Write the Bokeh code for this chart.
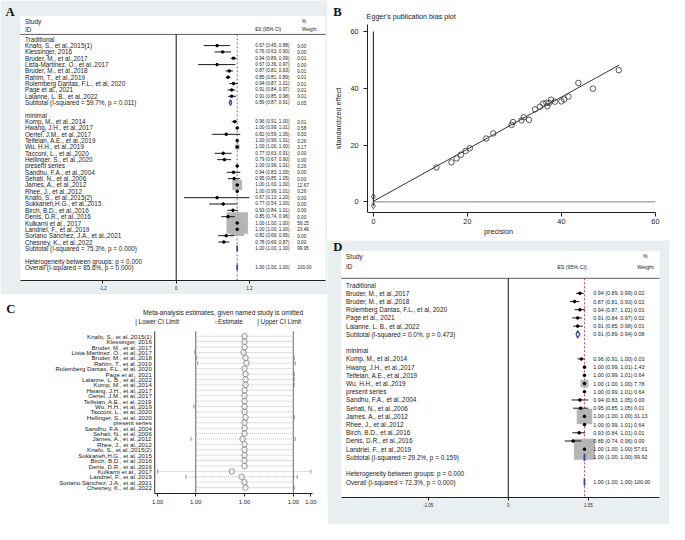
import math
from bokeh.plotting import figure
from bokeh.models import Range1d, FixedTicker, NumeralTickFormatter, CustomJSTickFormatter
from bokeh.layouts import row, column
from bokeh.embed import file_html
from bokeh.resources import INLINE
from bokeh.core.properties import value

SX = 669 / 685
SY = 524 / 540
SF = (SX + SY) / 2
BG = "#e9eff1"
SANS = "Liberation Sans"
SERIF = "Liberation Serif"
TXT = "#222222"


def fs(px):
    return f"{px * SF:.2f}px"


# ===================== DATA =====================
# ---- Panel A: forest plot, all studies ----
a_group_labels = ["Traditional", "minimal"]
a_trad_names = ["Knafo, S., et al.,2015(1)", "Klessinger, 2016", "Bruder, M., et al.,2017",
                "Lista-Martinez, O., et al.,2017", "Bruder, M., et al.,2018", "Rahim, T., et al.,2019",
                "Rolemberg Dantas, F.L., et al, 2020", "Page et al., 2021", "Lalanne, L. B., et al.,2022"]
a_trad_es = [0.67, 0.76, 0.94, 0.67, 0.87, 0.85, 0.94, 0.91, 0.91]
a_trad_lo = [0.45, 0.63, 0.89, 0.36, 0.81, 0.81, 0.87, 0.84, 0.85]
a_trad_hi = [0.88, 0.90, 0.99, 0.97, 0.93, 0.89, 1.01, 0.97, 0.98]
a_trad_w = [0.00, 0.00, 0.01, 0.00, 0.01, 0.01, 0.01, 0.01, 0.01]
a_min_names = ["Komp, M., et al.,2014", "Hwang, J.H., et al.,2017", "Oertel, J.M., et al.,2017",
               "Telfeian, A.E., et al.,2019", "Wu, H.H., et al.,2019", "Tacconi, L., et al.,2020",
               "Hellinger, S., et al.,2020", "present series", "Sandhu, F.A., et al.,2004",
               "Sehati, N., et al.,2006", "James, A., et al.,2012", "Rhee, J., et al.,2012",
               "Knafo, S., et al.,2015(2)", "Sukkarieh,H.G., et al.,2015", "Birch, B.D., et al.,2016",
               "Denis, D.R., et al.,2016", "Kulkarni et al., 2017", "Landriel, F., et al.,2019",
               "Soriano Sánchez, J.A., et al.,2021", "Chesney, K., et al.,2022"]
a_min_es = [0.96, 1.00, 0.82, 1.00, 1.00, 0.77, 0.79, 1.00, 0.94, 0.95,
            1.00, 1.00, 0.67, 0.77, 0.93, 0.85, 1.00, 1.00, 0.82, 0.78]
a_min_lo = [0.91, 0.99, 0.59, 0.99, 1.00, 0.63, 0.67, 0.99, 0.83, 0.85,
            1.00, 0.99, 0.13, 0.54, 0.84, 0.74, 1.00, 1.00, 0.69, 0.69]
a_min_hi = [1.00, 1.01, 1.05, 1.01, 1.00, 0.91, 0.90, 1.01, 1.05, 1.05,
            1.00, 1.01, 1.20, 1.00, 1.01, 0.96, 1.00, 1.00, 0.95, 0.87]
a_min_w = [0.01, 0.58, 0.00, 0.26, 3.17, 0.00, 0.00, 0.26, 0.00, 0.00,
           12.67, 0.26, 0.00, 0.00, 0.00, 0.00, 59.25, 23.46, 0.00, 0.00]
a_sub_labels = ["Subtotal  (I-squared = 59.7%, p = 0.011)", "Subtotal  (I-squared = 75.3%, p = 0.000)"]
a_sub_es = [0.89, 1.00]
a_sub_lo = [0.87, 1.00]
a_sub_hi = [0.91, 1.00]
a_sub_w = [0.05, 99.95]
a_het_label = "Heterogeneity between groups: p = 0.000"
a_overall_label = "Overall  (I-squared = 85.6%, p = 0.000)"
a_overall = [1.00, 1.00, 1.00, 100.00]
a_xticks = [-1.2, 0, 1.2]

# ---- Panel B: Egger's plot ----
b_precision = [13.4, 16.6, 17.7, 18.6, 19.6, 20.5, 24.0, 25.5, 29.4, 29.7, 31.5, 32.0, 33.1, 34.4,
               35.4, 36.1, 36.8, 37.0, 37.4, 37.8, 38.6, 40.0, 40.6, 41.5, 43.6, 46.7, 52.2]
b_std_effect = [12.1, 13.9, 15.3, 16.6, 17.9, 18.9, 22.3, 24.1, 27.1, 28.1, 28.7, 29.8, 28.9, 32.6,
                33.5, 34.6, 34.9, 33.7, 34.9, 36.0, 35.3, 35.4, 36.1, 37.1, 41.9, 39.9, 46.4]
b_intercept = 0.2
b_slope = 0.918
b_fit_x = [0.0, 52.3]
b_intercept_ci = [-1.4, 1.8]
b_xticks = [0, 20, 40, 60]
b_yticks = [0, 20, 40, 60]
b_title = "Egger's publication bias plot"

# ---- Panel C: leave-one-out sensitivity ----
c_names = ["Knafo, S., et al.,2015(1)", "Klessinger, 2016", "Bruder, M., et al.,2017",
           "Lista-Martinez, O., et al.,2017", "Bruder, M., et al.,2018", "Rahim, T., et al.,2019",
           "Rolemberg Dantas, F.L., et al, 2020", "Page et al., 2021", "Lalanne, L. B., et al.,2022",
           "Komp, M., et al.,2014", "Hwang, J.H., et al.,2017", "Oertel, J.M., et al.,2017",
           "Telfeian, A.E., et al.,2019", "Wu, H.H., et al.,2019", "Tacconi, L., et al.,2020",
           "Hellinger, S., et al.,2020", "present series", "Sandhu, F.A., et al.,2004",
           "Sehati, N., et al.,2006", "James, A., et al.,2012", "Rhee, J., et al.,2012",
           "Knafo, S., et al.,2015(2)", "Sukkarieh,H.G., et al.,2015", "Birch, B.D., et al.,2016",
           "Denis, D.R., et al.,2016", "Kulkarni et al., 2017", "Landriel, F., et al.,2019",
           "Soriano Sánchez, J.A., et al.,2021", "Chesney, K., et al.,2022"]
c_est = [1.0000, 1.0000, 1.0000, 0.99995, 1.00005, 1.0001, 1.0000, 1.00005, 1.00005, 1.00005,
         1.0000, 1.0000, 1.0000, 1.0000, 1.0000, 1.00005, 1.0000, 1.0000, 1.0000, 0.9999,
         1.0000, 1.0000, 1.0000, 1.0000, 1.0000, 0.99935, 0.99985, 1.0000, 1.00005]
c_lo = [0.9975, 0.9975, 0.9975, 0.99745, 0.99755, 0.9976, 0.9975, 0.9975, 0.9975, 0.9975,
        0.9975, 0.9975, 0.9975, 0.9974, 0.9975, 0.9975, 0.9975, 0.9975, 0.9975, 0.99725,
        0.9975, 0.9975, 0.9975, 0.9975, 0.9975, 0.99555, 0.9970, 0.9975, 0.9975]
c_hi = [1.0025, 1.0025, 1.0025, 1.0025, 1.00255, 1.0026, 1.0025, 1.00255, 1.00255, 1.00255,
        1.0025, 1.0025, 1.0025, 1.0025, 1.0025, 1.00255, 1.0025, 1.0025, 1.0025, 1.0026,
        1.0025, 1.0025, 1.0025, 1.0025, 1.0025, 1.0034, 1.0027, 1.0025, 1.00255]
c_overall = [0.9975, 1.0000, 1.0025]
c_title = "Meta-analysis estimates, given named study is omitted"
c_legend = ["| Lower CI Limit", "○Estimate", "| Upper CI Limit"]

# ---- Panel D: forest plot, subset ----
d_group_labels = ["Traditional", "minimal"]
d_trad_names = ["Bruder, M., et al.,2017", "Bruder, M., et al.,2018", "Rolemberg Dantas, F.L., et al, 2020",
                "Page et al., 2021", "Lalanne, L. B., et al.,2022"]
d_trad_es = [0.94, 0.87, 0.94, 0.91, 0.91]
d_trad_lo = [0.89, 0.81, 0.87, 0.84, 0.85]
d_trad_hi = [0.99, 0.93, 1.01, 0.97, 0.98]
d_trad_w = [0.02, 0.02, 0.01, 0.02, 0.01]
d_min_names = ["Komp, M., et al.,2014", "Hwang, J.H., et al.,2017", "Telfeian, A.E., et al.,2019",
               "Wu, H.H., et al.,2019", "present series", "Sandhu, F.A., et al.,2004",
               "Sehati, N., et al.,2006", "James, A., et al.,2012", "Rhee, J., et al.,2012",
               "Birch, B.D., et al.,2016", "Denis, D.R., et al.,2016", "Landriel, F., et al.,2019"]
d_min_es = [0.96, 1.00, 1.00, 1.00, 1.00, 0.94, 0.95, 1.00, 1.00, 0.93, 0.85, 1.00]
d_min_lo = [0.91, 0.99, 0.99, 1.00, 0.99, 0.83, 0.85, 1.00, 0.99, 0.84, 0.74, 1.00]
d_min_hi = [1.00, 1.01, 1.01, 1.00, 1.01, 1.05, 1.05, 1.00, 1.01, 1.01, 0.96, 1.00]
d_min_w = [0.03, 1.43, 0.64, 7.78, 0.64, 0.00, 0.01, 31.13, 0.64, 0.01, 0.00, 57.61]
d_sub_labels = ["Subtotal  (I-squared = 0.0%, p = 0.473)", "Subtotal  (I-squared = 29.2%, p = 0.159)"]
d_sub_es = [0.91, 1.00]
d_sub_lo = [0.89, 1.00]
d_sub_hi = [0.94, 1.00]
d_sub_w = [0.08, 99.92]
d_het_label = "Heterogeneity between groups: p = 0.000"
d_overall_label = "Overall  (I-squared = 72.3%, p = 0.000)"
d_overall = [1.00, 1.00, 1.00, 100.00]
d_xticks = [-1.05, 0, 1.05]


# ===================== HELPERS =====================
def gtext(p, x, y, text, size, font=SANS, bold=False, align="left", color=TXT):
    p.text(x=[x], y=[y], text=[text], text_font=value(font), text_font_size=fs(size),
           text_font_style="bold" if bold else "normal", text_align=align,
           text_baseline="middle", text_color=color)


def mkfig(W, H, frame_bottom, xr, yr, bg, yaxis=False):
    p = figure(width=round(W * SX), height=round(H * SY),
               x_range=Range1d(xr(0), xr(W)), y_range=Range1d(yr(frame_bottom), yr(0)),
               output_backend="svg", toolbar_location=None,
               y_axis_location="left" if yaxis else None,
               min_border_left=0, min_border_right=0, min_border_top=0,
               min_border_bottom=round(H * SY) - round(frame_bottom * SY))
    p.background_fill_color = bg
    p.border_fill_color = bg
    p.outline_line_color = None
    p.xgrid.visible = False
    p.ygrid.visible = False
    return p


def style_axis(ax, size, tick_out=3, standoff=2):
    ax.axis_line_color = "#222222"
    ax.major_tick_line_color = "#222222"
    ax.major_tick_out = tick_out
    ax.major_tick_in = 0
    ax.minor_tick_line_color = None
    ax.major_label_text_font_size = fs(size)
    ax.major_label_text_font = SANS
    ax.major_label_text_color = TXT
    ax.major_label_standoff = standoff


def build_records(group_labels, groups, subs, het_label, overall_label, overall):
    recs = []
    r = 1
    for glab, (names, es, lo, hi, w), sub in zip(group_labels, groups, subs):
        recs.append(dict(row=r, kind="group", label=glab))
        r += 1
        for i in range(len(names)):
            recs.append(dict(row=r, kind="study", label=names[i], es=es[i], lo=lo[i], hi=hi[i], w=w[i]))
            r += 1
        sl, se, slo, shi, sw = sub
        recs.append(dict(row=r, kind="sub", label=sl, es=se, lo=slo, hi=shi, w=sw))
        r += 2
    recs.append(dict(row=r, kind="het", label=het_label))
    r += 1
    recs.append(dict(row=r, kind="overall", label=overall_label, es=overall[0], lo=overall[1],
                     hi=overall[2], w=overall[3]))
    return recs


def forest(recs, g, xticks, letter):
    W, H = g["W"], g["H"]
    L, R, T, B = g["frame"]
    x0, ppu, y1, rh = g["x0"], g["ppu"], g["row1"], g["rowh"]

    def xr(px):
        return (px - x0) / ppu

    def yr(py):
        return 1 + (py - y1) / rh

    p = mkfig(W, H, B, xr, yr, BG)
    xs, xe, ytop, ybot = xr(L), xr(R), yr(T), yr(B)
    p.quad(left=[xs], right=[xe], top=[ytop], bottom=[ybot], fill_color="white", line_color=None)

    hl = yr(g["hline"])
    p.segment(x0=[xs], x1=[xe], y0=[hl], y1=[hl], line_color="#333333", line_width=0.8)
    ov = [r for r in recs if r["kind"] == "overall"][0]
    p.segment(x0=[0], x1=[0], y0=[hl], y1=[ybot], line_color="#111111", line_width=1)
    p.segment(x0=[ov["es"]], x1=[ov["es"]], y0=[hl], y1=[ybot], line_color="#d2465a",
              line_width=1, line_dash="2 2")

    st = [r for r in recs if r["kind"] == "study"]
    bx_ = [r for r in st if r["w"] > 0]
    p.scatter(x=[r["es"] for r in bx_], y=[r["row"] for r in bx_],
              size=[g["box"] * math.sqrt(r["w"]) * SF for r in bx_], marker="square",
              fill_color="#b5b5b5", line_color=None)
    p.segment(x0=[r["lo"] for r in st], x1=[r["hi"] for r in st], y0=[r["row"] for r in st],
              y1=[r["row"] for r in st], line_color="#1a1a1a", line_width=1)
    p.scatter(x=[r["es"] for r in st], y=[r["row"] for r in st], size=2.6, marker="circle",
              fill_color="black", line_color="black")

    dm = [r for r in recs if r["kind"] in ("sub", "overall")]
    h = 0.45
    p.patches(xs=[[r["lo"], r["es"], r["hi"], r["es"]] for r in dm],
              ys=[[r["row"], r["row"] - h, r["row"], r["row"] + h] for r in dm],
              fill_color=None, line_color="#3a479c",
              line_width=[1.3 if r["hi"] > r["lo"] else 1.8 for r in dm])

    nx = xr(g["name_x"])
    tx = [nx, nx] + [nx] * len(recs)
    ty = [yr(g["study_y"]), yr(g["id_y"])] + [r["row"] for r in recs]
    tt = ["Study", "ID"] + [r["label"] for r in recs]
    p.text(x=tx, y=ty, text=tt, text_font=value(SANS), text_font_size=fs(g["name_fs"]),
           text_baseline="middle", text_align="left", text_color=TXT)

    er = [r for r in recs if r["kind"] in ("study", "sub", "overall")]
    if g["joined"]:
        et = [f"{r['es']:.2f} ({r['lo']:.2f}, {r['hi']:.2f}) {r['w']:.2f}" for r in er]
        p.text(x=[xr(g["es_x"])] * len(er), y=[r["row"] for r in er], text=et,
               text_font=value(SANS), text_font_size=fs(g["es_fs"]), text_baseline="middle",
               text_align="left", text_color=TXT)
    else:
        et = [f"{r['es']:.2f} ({r['lo']:.2f}, {r['hi']:.2f})" for r in er]
        wt = [f"{r['w']:.2f}" for r in er]
        p.text(x=[xr(g["es_x"])] * len(er) + [xr(g["w_x"])] * len(er),
               y=[r["row"] for r in er] * 2, text=et + wt,
               text_font=value(SANS), text_font_size=fs(g["es_fs"]), text_baseline="middle",
               text_align="left", text_color=TXT)
    hx = [xr(g["esh_x"]), xr(g["pct_x"]), xr(g["wh_x"])]
    hy = [yr(g["id_y"]), yr(g["study_y"]), yr(g["id_y"])]
    p.text(x=hx, y=hy, text=["ES (95% CI)", "%", "Weight"], text_font=value(SANS),
           text_font_size=fs(g["es_fs"]), text_baseline="middle", text_align="left", text_color=TXT)

    ax = p.xaxis[0]
    ax.ticker = FixedTicker(ticks=xticks)
    ax.formatter = CustomJSTickFormatter(code="return tick.toString();")
    ax.bounds = (xs, xe)
    style_axis(ax, 4.6, tick_out=3, standoff=2)

    gtext(p, xr(g["letter"][0]), yr(g["letter"][1]), letter, 13, font=SERIF, bold=True, color="#111111")
    return p


# ===================== PANEL A =====================
gA = dict(W=335, H=303, frame=(20, 333, 16, 289), x0=180, ppu=62.5, row1=40, rowh=6.54, hline=35,
          study_y=22, id_y=30, name_x=25, es_x=261, w_x=304, esh_x=261, pct_x=309, wh_x=309,
          name_fs=6.55, es_fs=4.8, box=2.86, joined=False, letter=(5, 12))
recsA = build_records(a_group_labels,
                      [(a_trad_names, a_trad_es, a_trad_lo, a_trad_hi, a_trad_w),
                       (a_min_names, a_min_es, a_min_lo, a_min_hi, a_min_w)],
                      [(a_sub_labels[i], a_sub_es[i], a_sub_lo[i], a_sub_hi[i], a_sub_w[i]) for i in range(2)],
                      a_het_label, a_overall_label, a_overall)
pa = forest(recsA, gA, a_xticks, "A")

# ===================== PANEL D =====================
gD = dict(W=350, H=293, frame=(14, 340, 11, 265), x0=185, ppu=78, row1=46, rowh=8.46, hline=39,
          study_y=16, id_y=27, name_x=19, es_x=272, w_x=0, esh_x=235, pct_x=323, wh_x=317,
          name_fs=6.6, es_fs=5.5, box=2.85, joined=True, letter=(6, 7))
recsD = build_records(d_group_labels,
                      [(d_trad_names, d_trad_es, d_trad_lo, d_trad_hi, d_trad_w),
                       (d_min_names, d_min_es, d_min_lo, d_min_hi, d_min_w)],
                      [(d_sub_labels[i], d_sub_es[i], d_sub_lo[i], d_sub_hi[i], d_sub_w[i]) for i in range(2)],
                      d_het_label, d_overall_label, d_overall)
pd_ = forest(recsD, gD, d_xticks, "D")


# ===================== PANEL B =====================
def bx(px):
    return (px - 47) / 4.81


def by(py):
    return (207 - py) / 2.917


pb = mkfig(350, 247, 218, bx, by, "white", yaxis=True)
pb.segment(x0=[0], x1=[0], y0=[b_intercept_ci[0]], y1=[b_yticks[-1]], line_color="#333333", line_width=1.2)
pb.segment(x0=[0], x1=[b_xticks[-1]], y0=[0], y1=[0], line_color="#9a9a9a", line_width=1.3)
pb.line(x=b_fit_x, y=[b_intercept + b_slope * x for x in b_fit_x], line_color="#333333", line_width=1)
pb.scatter(x=b_precision, y=b_std_effect, marker="circle", size=5.5, fill_color=None,
           line_color="#444444", line_width=0.9)
pb.scatter(x=[0, 0], y=b_intercept_ci, marker="diamond", size=6, fill_color=None,
           line_color="#444444", line_width=0.9)
for ax in (pb.xaxis[0], pb.yaxis[0]):
    style_axis(ax, 7.5, tick_out=4, standoff=2)
    ax.axis_label_text_font_size = fs(7.5)
    ax.axis_label_text_font = SANS
    ax.axis_label_text_font_style = "normal"
    ax.axis_label_text_color = TXT
pb.xaxis.ticker = FixedTicker(ticks=b_xticks)
pb.yaxis.ticker = FixedTicker(ticks=b_yticks)
pb.xaxis.bounds = (bx(41), bx(336))
pb.yaxis.bounds = (by(218), by(25))
pb.yaxis.fixed_location = bx(41)
pb.yaxis.major_label_standoff = 5
pb.xaxis.axis_label = "precision"
pb.yaxis.axis_label = "standardized effect"
pb.xaxis.axis_label_standoff = 0
pb.yaxis.axis_label_standoff = 4
gtext(pb, bx(6), by(12), "B", 13, font=SERIF, bold=True, color="#111111")
gtext(pb, bx(40), by(16), b_title, 7.4)


# ===================== PANEL C =====================
def cx(px):
    return c_overall[1] + (px - 250) / 20000


def cy(py):
    return 1 + (py - 43) / 5.57


c_rows = list(range(1, len(c_names) + 1))
pc = mkfig(335, 237, 205, cx, cy, "white")
pc.segment(x0=[c_overall[0], c_overall[2]], x1=[c_overall[0], c_overall[2]], y0=[cy(38)] * 2,
           y1=[cy(205)] * 2, line_color="#666666", line_width=1)
pc.segment(x0=[cx(158)], x1=[cx(158)], y0=[cy(38)], y1=[cy(205)], line_color="#333333", line_width=1)
pc.segment(x0=c_lo, x1=c_hi, y0=c_rows, y1=c_rows, line_color="#b0b0b0", line_width=0.8, line_dash="1 1")
pc.scatter(x=c_lo + c_hi, y=c_rows + c_rows, marker="dash", angle=math.pi / 2, size=4,
           line_color="#9a9a9a", line_width=1)
pc.scatter(x=c_est, y=c_rows, marker="circle", size=5.5, fill_color=None, line_color="#888888",
           line_width=0.9)
pc.text(x=[cx(155)] * len(c_names), y=c_rows, text=c_names, text_font=value(SANS),
        text_font_size=fs(6.3), text_align="right", text_baseline="middle", text_color=TXT)
pc.xaxis.ticker = FixedTicker(ticks=[min(c_lo)] + c_overall + [max(c_hi)])
pc.xaxis.formatter = NumeralTickFormatter(format="0.00")
pc.xaxis.bounds = (cx(158), cx(320))
style_axis(pc.xaxis[0], 6, tick_out=3, standoff=3)
gtext(pc, cx(6), cy(15), "C", 13, font=SERIF, bold=True, color="#111111")
gtext(pc, cx(228), cy(19), c_title, 6.8, align="center")
for lx, lt in zip([138, 219, 263], c_legend):
    gtext(pc, cx(lx), cy(28), lt, 6.5)

layout = row(column(pa, pc), column(pb, pd_))
open("out.html", "w").write(file_html(layout, INLINE))
